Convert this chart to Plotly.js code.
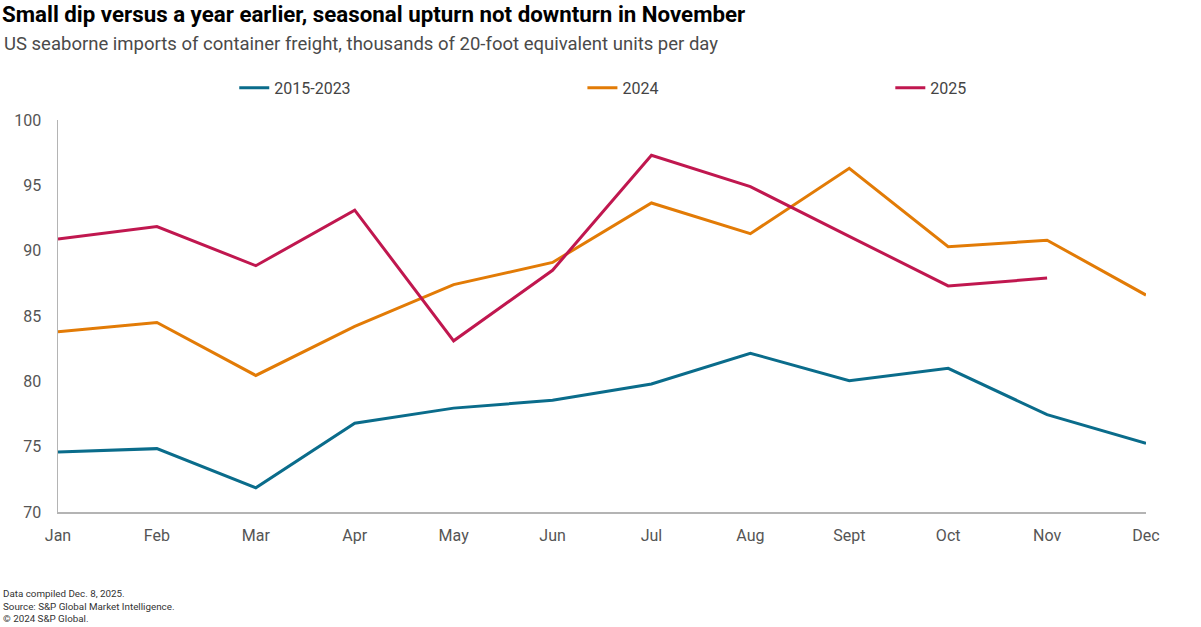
<!DOCTYPE html>
<html>
<head>
<meta charset="utf-8">
<script src="https://cdn.plot.ly/plotly-3.0.1.min.js"></script>
<style>
html,body{margin:0;padding:0;background:#fff;}
#chart{width:1201px;height:627px;}
</style>
</head>
<body>
<div id="chart"></div>
<script>
const months = ["Jan","Feb","Mar","Apr","May","Jun","Jul","Aug","Sept","Oct","Nov","Dec"];
const avg2015_2023 = [74.6, 74.85, 71.85, 76.8, 77.95, 78.55, 79.8, 82.15, 80.05, 81.0, 77.45, 75.25];
const y2024 = [83.8, 84.5, 80.45, 84.2, 87.4, 89.1, 93.65, 91.3, 96.3, 90.3, 90.8, 86.6];
const y2025 = [90.9, 91.85, 88.85, 93.1, 83.1, 88.5, 97.3, 94.9, 91.1, 87.3, 87.9];
const seriesNames = ["2015-2023", "2024", "2025"];

const font = "Roboto, 'Liberation Sans', Arial, sans-serif";

const traces = [
  {x: months, y: avg2015_2023, name: seriesNames[0], type: "scatter", mode: "lines",
   line: {color: "#0a6c8b", width: 3}, legend: "legend"},
  {x: months, y: y2024, name: seriesNames[1], type: "scatter", mode: "lines",
   line: {color: "#e27b06", width: 3}, legend: "legend2"},
  {x: months.slice(0, y2025.length), y: y2025, name: seriesNames[2], type: "scatter", mode: "lines",
   line: {color: "#c0174f", width: 3}, legend: "legend3"}
];

const legBase = {orientation: "h", yanchor: "middle", y: 1.082, xanchor: "left",
  font: {family: font, size: 16, color: "#444"}, bgcolor: "rgba(0,0,0,0)", itemclick: false};

const layout = {
  width: 1201, height: 627,
  margin: {l: 58, r: 55, t: 120, b: 114.5, pad: 0},
  paper_bgcolor: "#fff", plot_bgcolor: "#fff",
  font: {family: font, color: "#555"},
  showlegend: true,
  legend: Object.assign({}, legBase, {x: 0.162}),
  legend2: Object.assign({}, legBase, {x: 0.482}),
  legend3: Object.assign({}, legBase, {x: 0.765}),
  xaxis: {
    type: "category", categoryorder: "array", categoryarray: months,
    range: [0, 11], showgrid: false, zeroline: false,
    showline: true, linecolor: "#b4b4b4", linewidth: 1.5,
    ticks: "", ticklabelstandoff: 8,
    tickfont: {family: font, size: 16, color: "#555"}
  },
  yaxis: {
    range: [70, 100], dtick: 5, tick0: 70, showgrid: false, zeroline: false,
    showline: true, linecolor: "#b4b4b4", linewidth: 1.5,
    ticks: "", ticklabelstandoff: 12,
    tickfont: {family: font, size: 16, color: "#555"}
  },
  annotations: [
    {text: "<b>Small dip versus a year earlier, seasonal upturn not downturn in November</b>",
     xref: "paper", yref: "paper", x: -58/1088, y: (512.5-14)/392.5, xanchor: "left", yanchor: "middle",
     showarrow: false, font: {family: font, size: 22.3, color: "#000"}},
    {text: "US seaborne imports of container freight, thousands of 20-foot equivalent units per day",
     xref: "paper", yref: "paper", x: -56/1088, y: (512.5-44)/392.5, xanchor: "left", yanchor: "middle",
     showarrow: false, font: {family: font, size: 18.5, color: "#4a4a4a"}},
    {text: "Data compiled Dec. 8, 2025.<br>Source: S&P Global Market Intelligence.<br>© 2024 S&P Global.",
     xref: "paper", yref: "paper", x: -57/1088, y: (512.5-587)/392.5, xanchor: "left", yanchor: "top",
     align: "left", showarrow: false, font: {family: font, size: 9.8, color: "#333"}}
  ]
};

Plotly.newPlot("chart", traces, layout, {displayModeBar: false, staticPlot: true});
</script>
</body>
</html>
